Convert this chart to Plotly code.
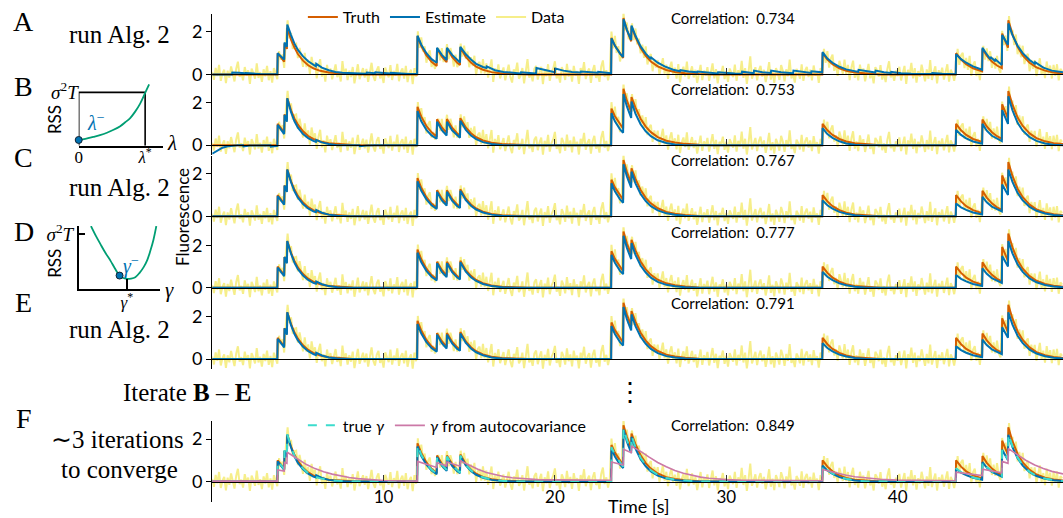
import numpy as np
import plotly.graph_objects as go

W, H = 1063, 518
SERIF = "Liberation Serif"
SANS = "Lato"
ORANGE = "#D55E00"
BLUE = "#0072B2"
YELLOW = "rgba(240,228,66,0.62)"
GREEN = "#009E73"
PINK = "#CC79A7"
CYAN = "rgb(60,220,205)"

# ---------------- data ----------------
data_dt = 0.1
data_vals = [
    0.12, -0.25, 0.31, -0.08, 0.45, -0.30, 0.05, 0.22, -0.41, 0.18,
    -0.15, 0.38, 0.02, -0.33, 0.27, 0.60, -0.12, 0.09, -0.28, 0.35,
    -0.05, 0.19, -0.44, 0.28, 0.07, -0.20, 0.52, -0.16, 0.11, -0.35,
    0.24, -0.09, 0.40, -0.27, 0.15, -0.38, 0.30, 0.04, -0.22, 1.10,
    0.69, 0.94, 0.31, 1.65, 2.55, 1.70, 1.96, 1.20, 1.42, 1.45,
    0.77, 1.25, 0.85, 0.36, 1.02, 0.35, 0.69, 0.03, 0.83, 0.34,
    0.55, -0.18, 0.39, 0.72, -0.10, 0.23, -0.34, 0.45, -0.01, 0.28,
    -0.23, 0.21, 0.47, -0.13, 0.12, -0.33, 0.63, -0.03, 0.27, -0.26,
    0.18, -0.12, 0.35, -0.42, 0.10, 0.48, -0.22, 0.06, 0.30, -0.15,
    0.26, -0.35, 0.14, 0.55, -0.08, -0.30, 0.20, 0.38, -0.18, 0.02,
    -0.40, 0.32, 0.08, -0.14, 0.44, -0.26, 0.16, -0.06, 0.50, -0.32,
    0.12, 0.28, -0.20, 0.40, -0.36, 0.06, 0.22, -0.45, 0.30, -0.10,
    2.03, 1.25, 1.74, 1.07, 1.32, 0.55, 0.98, 1.13, 0.35, 0.62,
    0.26, 0.70, 1.25, 0.66, 1.24, 0.58, 0.89, 1.43, 0.72, 1.24,
    0.92, 0.37, 0.93, 0.35, 0.53, 1.45, 0.84, 1.35, 0.73, 1.08,
    0.34, 0.81, 0.39, 0.88, -0.03, 0.48, 0.59, 0.05, 0.72, 0.04,
    0.52, -0.15, 0.23, 0.71, -0.35, 0.29, -0.02, 0.47, -0.19, 0.10,
    0.33, -0.28, 0.15, 0.46, -0.12, -0.38, 0.24, 0.08, 0.56, -0.20,
    -0.06, 0.30, -0.42, 0.18, 0.72, -0.15, 0.05, -0.32, 0.26, 0.40,
    -0.24, 0.12, 0.36, -0.45, 0.20, -0.08, 0.48, -0.30, 0.10, 0.28,
    0.62, -0.18, 0.04, -0.38, 0.34, 0.14, -0.26, 0.50, -0.10, 0.22,
    -0.34, 0.40, -0.05, 0.16, -0.44, 0.30, 0.06, 0.58, -0.22, 0.12,
    0.28, -0.40, 0.18, 0.44, -0.16, 0.02, -0.35, 0.36, 0.66, -0.12,
    0.20, -0.28, 0.10, 2.02, 1.23, 1.81, 1.01, 1.33, 0.61, 1.05,
    2.90, 2.06, 2.44, 1.66, 1.95, 2.40, 1.61, 2.16, 1.41, 1.69,
    0.99, 1.40, 0.78, 1.32, 0.47, 0.84, 0.96, 0.15, 0.69, 0.33,
    0.68, -0.01, 0.40, 0.77, 0.04, 0.46, -0.21, 0.32, 0.60, -0.02,
    0.32, -0.20, 0.49, -0.37, 0.12, 0.36, -0.09, 0.60, -0.21, 0.14,
    0.38, -0.14, 0.22, -0.40, 0.07, 0.45, -0.27, 0.18, -0.05, 0.34,
    -0.30, 0.10, 0.52, -0.18, 0.25, -0.42, 0.15, 0.04, 0.40, -0.22,
    0.16, -0.35, 0.28, 0.08, -0.12, 0.46, -0.30, 0.20, -0.06, 0.64,
    -0.16, 0.30, -0.44, 0.12, 0.85, -0.20, 0.06, 0.34, -0.28, 0.18,
    0.40, -0.10, 0.22, -0.36, 0.05, 0.58, -0.24, 0.14, -0.40, 0.30,
    0.08, -0.26, 0.44, 0.16, -0.32, 0.24, -0.08, 0.70, -0.18, 0.02,
    -0.38, 0.26, 0.10, -0.20, 0.48, -0.30, 0.18, 0.36, -0.12, 0.22,
    -0.28, 0.42, -0.06, 0.14, -0.40, 0.30, 0.08, 1.20, 0.55, 1.10,
    0.32, 0.75, 0.93, 0.17, 0.47, -0.07, 0.64, 0.31, 0.03, 0.70,
    0.02, 0.45, -0.27, 0.32, 0.65, -0.16, 0.18, -0.28, 0.46, 0.00,
    0.28, -0.32, 0.14, 0.50, -0.18, 0.06, -0.42, 0.34, 0.20, -0.10,
    0.44, -0.24, 0.08, -0.36, 0.26, 0.62, -0.14, 0.04, -0.30, 0.18,
    -0.08, 0.36, -0.28, 0.12, 0.40, -0.44, 0.22, -0.02, 0.54, -0.18,
    0.30, -0.38, 0.16, -0.10, 0.46, 0.06, -0.32, 0.24, -0.20, 0.68,
    -0.26, 0.10, 0.38, -0.42, 0.20, -0.06, 0.32, -0.24, 0.14, 0.48,
    -0.34, 0.22, 0.04, -0.30, 0.16, 1.20, 0.45, 0.90, 1.02, 0.30,
    0.78, 0.22, 0.87, -0.07, 0.44, 0.61, -0.07, 0.30, -0.27, 0.41,
    1.35, 0.70, 1.23, 0.63, 1.09, 0.31, 0.79, 0.27, 0.87, 0.27,
    0.08, 2.05, 1.38, 1.83, 1.11, 2.75, 1.90, 2.10, 1.38, 1.88,
    0.95, 1.40, 0.81, 1.35, 0.49, 0.85, 0.97, 0.15, 0.68, 0.27,
    0.67, -0.07, 0.39, 0.76, -0.02, 0.40, -0.17, 0.61, 0.04, 0.42,
    -0.19, 0.45, -0.06, 0.48, -0.28, 0.26, 0.15,
]

truth_pts = [
    (0, 0), (3.80, 0), (3.82, 1.00), (4.20, 0.60), (4.22, 1.45), (4.36, 1.20), (4.38, 2.20),
    (4.6, 1.64), (4.8, 1.26), (5.0, 0.96), (5.3, 0.65), (5.6, 0.43), (5.9, 0.29), (6.3, 0.17),
    (6.8, 0.088), (7.4, 0.04), (8.2, 0.01), (9.0, 0),
    (11.96, 0), (11.98, 1.80), (12.2, 1.34), (12.5, 0.90), (12.8, 0.60), (13.10, 0.40), (13.12, 1.22),
    (13.4, 0.84), (13.68, 0.58), (13.70, 1.23), (14.0, 0.82), (14.3, 0.55), (14.46, 0.45), (14.48, 1.27),
    (14.8, 0.83), (15.1, 0.56), (15.4, 0.37), (15.8, 0.22), (16.3, 0.11), (16.9, 0.05), (17.6, 0.02), (18.5, 0),
    (23.28, 0), (23.30, 1.72), (23.5, 1.36), (23.8, 0.96), (23.98, 0.78), (24.00, 2.65), (24.2, 2.09),
    (24.45, 1.56), (24.47, 2.26), (24.7, 1.76), (25.0, 1.24), (25.3, 0.87), (25.6, 0.61), (26.0, 0.38),
    (26.5, 0.21), (27.0, 0.12), (27.6, 0.06), (28.4, 0.02), (29.2, 0),
    (35.60, 0), (35.62, 1.00), (35.9, 0.70), (36.2, 0.48), (36.6, 0.29), (37.0, 0.17), (37.5, 0.09),
    (38.1, 0.04), (39.0, 0),
    (43.39, 0), (43.41, 1.00), (43.7, 0.70), (44.0, 0.48), (44.4, 0.29), (44.93, 0.15), (44.95, 1.20),
    (45.2, 0.88), (45.5, 0.61), (45.8, 0.42), (46.08, 0.30), (46.10, 1.92), (46.44, 1.26), (46.46, 2.55),
    (46.7, 1.90), (47.0, 1.30), (47.3, 0.90), (47.7, 0.55), (48.1, 0.33), (48.6, 0.18), (49.1, 0.095), (49.65, 0.05),
]

est_a_pts = [
    (0, 0), (1.15, 0), (1.17, 0.09), (1.5, 0.06), (1.55, 0.08), (1.9, 0.06), (1.95, 0.07), (2.4, 0.04),
    (2.8, 0.02), (3.80, 0.01),
    (3.82, 1.00), (4.20, 0.70), (4.22, 1.50), (4.36, 1.30), (4.38, 2.35), (4.6, 1.85), (4.8, 1.45),
    (5.0, 1.15), (5.3, 0.85), (5.6, 0.62), (5.9, 0.45), (6.05, 0.38), (6.07, 0.50), (6.4, 0.32),
    (6.8, 0.20), (7.2, 0.12), (7.6, 0.08), (8.0, 0.06), (8.5, 0.04), (9.0, 0.03), (9.02, 0.09),
    (9.5, 0.06), (9.52, 0.10), (10.0, 0.06), (10.4, 0.04), (10.42, 0.08), (11.0, 0.04), (11.5, 0.02), (11.96, 0.02),
    (11.98, 1.82), (12.2, 1.40), (12.5, 1.00), (12.8, 0.72), (13.10, 0.55), (13.12, 1.25), (13.4, 0.92),
    (13.68, 0.68), (13.70, 1.25), (14.0, 0.92), (14.3, 0.66), (14.46, 0.56), (14.48, 1.30), (14.8, 0.95),
    (15.1, 0.70), (15.4, 0.50), (15.8, 0.35), (16.0, 0.30), (16.02, 0.38), (16.5, 0.20), (17.0, 0.12),
    (17.5, 0.07), (18.0, 0.05), (18.02, 0.10), (18.5, 0.06), (18.90, 0.04), (18.92, 0.30), (19.5, 0.18),
    (20.0, 0.10), (20.02, 0.28), (20.5, 0.18), (21.0, 0.12), (21.5, 0.09), (21.52, 0.14), (22.0, 0.10),
    (22.5, 0.08), (22.52, 0.12), (23.0, 0.08), (23.28, 0.06),
    (23.30, 1.70), (23.5, 1.35), (23.8, 0.98), (23.98, 0.82), (24.00, 2.60), (24.2, 2.10), (24.45, 1.62),
    (24.47, 2.30), (24.7, 1.82), (25.0, 1.32), (25.3, 0.98), (25.6, 0.72), (25.62, 0.80), (26.0, 0.55),
    (26.4, 0.38), (26.9, 0.22), (27.3, 0.15), (27.32, 0.20), (27.8, 0.14), (28.3, 0.10), (28.32, 0.14),
    (28.9, 0.08), (29.5, 0.05), (29.52, 0.10), (30.0, 0.06), (30.5, 0.04), (30.9, 0.03), (30.92, 0.13),
    (31.4, 0.08), (31.6, 0.06), (31.62, 0.18), (32.1, 0.10), (32.6, 0.07), (32.62, 0.18), (33.2, 0.10),
    (33.9, 0.06), (33.92, 0.18), (34.5, 0.10), (34.95, 0.07), (34.97, 0.15), (35.60, 0.10),
    (35.62, 1.05), (35.9, 0.75), (36.2, 0.55), (36.6, 0.36), (37.0, 0.24), (37.5, 0.15), (37.70, 0.12),
    (37.72, 0.22), (38.2, 0.14), (38.7, 0.09), (38.72, 0.18), (39.2, 0.10), (39.6, 0.07), (39.62, 0.12),
    (40.2, 0.06), (40.8, 0.03), (42.0, 0.02), (42.02, 0.07), (42.6, 0.03), (43.39, 0.01),
    (43.41, 0.95), (43.7, 0.72), (44.0, 0.55), (44.4, 0.38), (44.93, 0.22), (44.95, 1.25), (45.2, 0.95),
    (45.40, 0.72), (45.42, 0.82), (45.70, 0.62), (45.72, 0.70), (46.08, 0.45), (46.10, 1.85), (46.44, 1.40),
    (46.46, 2.40), (46.7, 1.85), (47.0, 1.35), (47.3, 1.00), (47.7, 0.68), (48.0, 0.50), (48.02, 0.58),
    (48.5, 0.32), (49.0, 0.18), (49.65, 0.10),
]

est_b_pts = [
    (0, -0.40), (0.3, -0.25), (0.6, -0.12), (0.9, -0.05), (1.2, -0.02), (1.5, 0), (1.80, 0), (1.82, -0.06),
    (2.2, -0.02), (3.40, 0), (3.42, -0.07), (3.80, -0.03),
    (3.82, 0.95), (4.20, 0.52), (4.22, 1.42), (4.36, 1.10), (4.38, 2.20), (4.6, 1.55), (4.8, 1.12),
    (5.0, 0.82), (5.3, 0.52), (5.6, 0.33), (5.9, 0.20), (6.05, 0.15), (6.07, 0.25), (6.4, 0.13),
    (6.8, 0.05), (7.3, 0), (8.60, 0), (8.62, -0.05), (9.0, -0.02), (9.5, 0), (11.96, 0),
    (11.98, 1.60), (12.2, 1.12), (12.5, 0.72), (12.8, 0.46), (13.10, 0.30), (13.12, 1.10), (13.4, 0.70),
    (13.68, 0.45), (13.70, 1.10), (14.0, 0.70), (14.3, 0.44), (14.46, 0.35), (14.48, 1.15), (14.8, 0.72),
    (15.1, 0.45), (15.4, 0.28), (15.8, 0.14), (16.3, 0.05), (17.0, 0), (23.28, 0),
    (23.30, 1.50), (23.5, 1.12), (23.8, 0.74), (23.98, 0.58), (24.00, 2.40), (24.2, 1.82), (24.45, 1.28),
    (24.47, 2.05), (24.7, 1.48), (25.0, 0.98), (25.3, 0.65), (25.6, 0.42), (26.0, 0.23), (26.5, 0.10),
    (27.0, 0.03), (27.6, 0), (35.60, 0),
    (35.62, 0.80), (35.9, 0.52), (36.2, 0.34), (36.6, 0.18), (37.0, 0.08), (37.5, 0.02), (38.0, 0), (43.39, 0),
    (43.41, 0.72), (43.7, 0.48), (44.0, 0.32), (44.4, 0.17), (44.93, 0.07), (44.95, 1.00), (45.2, 0.68),
    (45.5, 0.44), (45.8, 0.29), (46.08, 0.19), (46.10, 1.65), (46.44, 1.00), (46.46, 2.30), (46.7, 1.64),
    (47.0, 1.05), (47.3, 0.68), (47.7, 0.38), (48.1, 0.20), (48.6, 0.08), (49.1, 0.02), (49.65, 0),
]

est_final_pts = [
    (0, 0), (3.80, 0), (3.82, 0.95), (4.20, 0.55), (4.22, 1.45), (4.36, 1.15), (4.38, 2.20), (4.6, 1.60),
    (4.8, 1.18), (5.0, 0.88), (5.3, 0.58), (5.6, 0.37), (5.9, 0.23), (6.05, 0.19), (6.07, 0.30), (6.4, 0.17),
    (6.8, 0.08), (7.3, 0.03), (8.0, 0),
    (11.96, 0), (11.98, 1.65), (12.2, 1.20), (12.5, 0.80), (12.8, 0.52), (13.10, 0.35), (13.12, 1.15),
    (13.4, 0.75), (13.68, 0.50), (13.70, 1.15), (14.0, 0.74), (14.3, 0.48), (14.46, 0.39), (14.48, 1.20),
    (14.8, 0.76), (15.1, 0.50), (15.4, 0.32), (15.8, 0.18), (16.3, 0.08), (17.0, 0.02), (17.8, 0),
    (23.28, 0), (23.30, 1.55), (23.5, 1.18), (23.8, 0.80), (23.98, 0.64), (24.00, 2.45), (24.2, 1.88),
    (24.45, 1.35), (24.47, 2.10), (24.7, 1.55), (25.0, 1.05), (25.3, 0.72), (25.6, 0.48), (26.0, 0.28),
    (26.5, 0.14), (27.0, 0.07), (27.6, 0.03), (28.4, 0),
    (35.60, 0), (35.62, 0.75), (35.9, 0.52), (36.2, 0.36), (36.6, 0.21), (37.0, 0.12), (37.5, 0.05), (38.2, 0),
    (43.39, 0), (43.41, 0.60), (43.7, 0.42), (44.0, 0.30), (44.4, 0.18), (44.93, 0.09), (44.95, 0.92),
    (45.2, 0.66), (45.5, 0.46), (45.8, 0.32), (46.08, 0.23), (46.10, 1.50), (46.44, 1.00), (46.46, 2.20),
    (46.7, 1.62), (47.0, 1.10), (47.3, 0.75), (47.7, 0.44), (48.1, 0.26), (48.6, 0.13), (49.1, 0.06), (49.65, 0.03),
]

est_true_gamma_pts = [
    (0, 0), (3.80, 0), (3.82, 0.98), (4.20, 0.58), (4.22, 1.47), (4.36, 1.18), (4.38, 2.22), (4.6, 1.63),
    (4.8, 1.22), (5.0, 0.92), (5.3, 0.62), (5.6, 0.40), (5.9, 0.26), (6.3, 0.15), (6.8, 0.07), (7.4, 0.03), (8.2, 0),
    (11.96, 0), (11.98, 1.72), (12.2, 1.26), (12.5, 0.85), (12.8, 0.56), (13.10, 0.38), (13.12, 1.18),
    (13.4, 0.80), (13.68, 0.55), (13.70, 1.18), (14.0, 0.78), (14.3, 0.52), (14.46, 0.42), (14.48, 1.22),
    (14.8, 0.79), (15.1, 0.53), (15.4, 0.35), (15.8, 0.20), (16.3, 0.10), (17.0, 0.03), (17.8, 0),
    (23.28, 0), (23.30, 1.62), (23.5, 1.26), (23.8, 0.88), (23.98, 0.70), (24.00, 2.52), (24.2, 1.96),
    (24.45, 1.42), (24.47, 2.16), (24.7, 1.62), (25.0, 1.12), (25.3, 0.78), (25.6, 0.53), (26.0, 0.32),
    (26.5, 0.17), (27.0, 0.09), (27.6, 0.04), (28.4, 0),
    (35.60, 0), (35.62, 0.78), (35.9, 0.55), (36.2, 0.38), (36.6, 0.22), (37.0, 0.13), (37.5, 0.06), (38.2, 0),
    (43.39, 0), (43.41, 0.62), (43.7, 0.44), (44.0, 0.31), (44.4, 0.19), (44.93, 0.10), (44.95, 0.95),
    (45.2, 0.68), (45.5, 0.48), (45.8, 0.33), (46.08, 0.24), (46.10, 1.55), (46.44, 1.03), (46.46, 2.25),
    (46.7, 1.66), (47.0, 1.13), (47.3, 0.77), (47.7, 0.46), (48.1, 0.27), (48.6, 0.14), (49.1, 0.07), (49.65, 0.03),
]

est_autocov_pts = [
    (0, 0.02), (3.80, 0.02), (3.82, 0.55), (4.20, 0.50), (4.22, 0.90), (4.36, 0.86), (4.38, 1.38), (5.0, 1.05),
    (5.5, 0.80), (6.0, 0.61), (6.5, 0.46), (7.0, 0.35), (7.5, 0.26), (8.0, 0.19), (8.5, 0.14), (9.0, 0.10),
    (9.5, 0.07), (10.0, 0.05), (11.0, 0.03), (11.96, 0.02),
    (11.98, 0.95), (12.6, 0.78), (13.10, 0.66), (13.12, 0.88), (13.68, 0.74), (13.70, 0.92), (14.46, 0.72),
    (14.48, 0.98), (15.0, 0.78), (15.5, 0.58), (16.0, 0.43), (16.5, 0.32), (17.0, 0.24), (17.5, 0.18),
    (18.0, 0.14), (18.5, 0.11), (19.0, 0.09), (20.0, 0.08), (21.0, 0.07), (22.0, 0.06), (23.28, 0.06),
    (23.30, 0.92), (23.98, 0.78), (24.00, 1.52), (24.45, 1.36), (24.47, 1.66), (25.0, 1.42), (25.5, 1.15),
    (26.0, 0.90), (26.5, 0.70), (27.0, 0.52), (27.5, 0.39), (28.0, 0.29), (28.5, 0.21), (29.0, 0.16),
    (29.5, 0.12), (30.0, 0.09), (31.0, 0.06), (33.0, 0.05), (35.60, 0.04),
    (35.62, 0.57), (36.0, 0.49), (36.5, 0.39), (37.0, 0.30), (37.5, 0.23), (38.0, 0.18), (39.0, 0.11),
    (40.0, 0.07), (42.0, 0.05), (43.39, 0.04),
    (43.41, 0.44), (44.0, 0.37), (44.93, 0.28), (44.95, 0.58), (45.5, 0.49), (46.08, 0.41), (46.10, 0.95),
    (46.44, 0.86), (46.46, 1.55), (47.0, 1.25), (47.5, 0.99), (48.0, 0.78), (48.5, 0.61), (49.0, 0.48), (49.65, 0.36),
]

correlations = ["0.734", "0.753", "0.767", "0.777", "0.791", "0.849"]
x_ticks = [10, 20, 30, 40]
y_ticks = [0, 2]

# schematic insets
lam_star = 1.0
sigma2T = 1.0
lambda_curve_x = [0.0, 0.1, 0.22, 0.32, 0.425, 0.525, 0.625, 0.7, 0.775, 0.85, 0.925, 1.0, 1.06]
lambda_curve_y = [0.11, 0.13, 0.166, 0.2, 0.245, 0.3, 0.368, 0.44, 0.52, 0.64, 0.79, 0.99, 1.15]
lambda_minus = (0.0, 0.11)
gamma_star = 0.59
gamma_curve_x = [0.15, 0.21, 0.266, 0.33, 0.388, 0.44, 0.49, 0.54, 0.59, 0.64, 0.693, 0.745, 0.795, 0.84, 0.877, 0.915, 0.95]
gamma_curve_y = [1.15, 0.97, 0.818, 0.65, 0.515, 0.38, 0.26, 0.20, 0.18, 0.185, 0.21, 0.29, 0.395, 0.53, 0.696, 0.9, 1.15]
gamma_minus = (0.50, 0.24)


def unzip(pts):
    return [p[0] for p in pts], [p[1] for p in pts]


data_t = np.arange(len(data_vals)) * data_dt
truth_t, truth_y = unzip(truth_pts)
estimates = [est_a_pts, est_b_pts, est_final_pts, est_final_pts, est_final_pts, est_final_pts]

# ---------------- geometry (pixels of the 1063x518 canvas) ----------------
zero_px = [67.5, 139.3, 211.6, 284.2, 356.6, 481.0]
unit_px = 21.6
y_top = 2.85
y_bot = [-0.48, -0.48, -0.48, -0.48, -0.48, -0.95]
x_left_px = 209
t_max = 49.65


def py(p):
    return 1 - p / H


def px(p):
    return p / W


fig = go.Figure()
layout = {}
for i in range(6):
    n = i + 1
    xa = "x" if n == 1 else f"x{n}"
    ya = "y" if n == 1 else f"y{n}"
    et, ey = unzip(estimates[i])
    fig.add_trace(go.Scatter(x=data_t, y=data_vals, xaxis=xa, yaxis=ya, mode="lines",
                             line=dict(color=YELLOW, width=2.0), name="Data", legendrank=3,
                             showlegend=(n == 1), legend="legend", hoverinfo="skip"))
    fig.add_trace(go.Scatter(x=truth_t, y=truth_y, xaxis=xa, yaxis=ya, mode="lines",
                             line=dict(color=ORANGE, width=2), name="Truth", legendrank=1,
                             showlegend=(n == 1), legend="legend"))
    fig.add_trace(go.Scatter(x=et, y=ey, xaxis=xa, yaxis=ya, mode="lines",
                             line=dict(color=BLUE, width=2), name="Estimate", legendrank=2,
                             showlegend=(n == 1), legend="legend"))
    if n == 6:
        gt, gy = unzip(est_true_gamma_pts)
        at, ay = unzip(est_autocov_pts)
        fig.add_trace(go.Scatter(x=gt, y=gy, xaxis=xa, yaxis=ya, mode="lines",
                                 line=dict(color=CYAN, width=2, dash="dash"), name="true <i>γ</i>",
                                 legendrank=1, legend="legend2"))
        fig.add_trace(go.Scatter(x=at, y=ay, xaxis=xa, yaxis=ya, mode="lines",
                                 line=dict(color=PINK, width=1.6), name="<i>γ</i> from autocovariance",
                                 legendrank=2, legend="legend2"))

    z = zero_px[i]
    top_px = z - y_top * unit_px
    bot_px = z - y_bot[i] * unit_px
    kx = "xaxis" if n == 1 else f"xaxis{n}"
    ky = "yaxis" if n == 1 else f"yaxis{n}"
    xd = dict(domain=[px(x_left_px), 1], range=[0, t_max], anchor="free", position=py(z),
              showline=True, linecolor="black", linewidth=1.3, ticks="inside", ticklen=6,
              tickwidth=1.2, tickcolor="#333", tickvals=x_ticks, showticklabels=(n == 6),
              tickfont=dict(family=SANS, size=17, color="black"), showgrid=False, zeroline=False)
    if n > 1:
        xd["matches"] = "x"
    layout[kx] = xd
    layout[ky] = dict(domain=[py(bot_px), py(top_px)], range=[y_bot[i], y_top], anchor=xa,
                      showline=True, linecolor="black", linewidth=1.3, ticks="outside", ticklen=5,
                      tickwidth=1.2, tickcolor="black", tickvals=y_ticks,
                      tickfont=dict(family=SANS, size=18, color="black"), showgrid=False, zeroline=False)

# inset B: RSS vs lambda
fig.add_trace(go.Scatter(x=[0, 0, lam_star, lam_star], y=[0, sigma2T, sigma2T, 0], xaxis="x7", yaxis="y7",
                         mode="lines", line=dict(color="black", width=1.6), showlegend=False))
fig.add_trace(go.Scatter(x=lambda_curve_x, y=lambda_curve_y, xaxis="x7", yaxis="y7", mode="lines",
                         line=dict(color=GREEN, width=1.8, shape="spline"), showlegend=False))
fig.add_trace(go.Scatter(x=[lambda_minus[0]], y=[lambda_minus[1]], xaxis="x7", yaxis="y7", mode="markers",
                         marker=dict(color=BLUE, size=7, line=dict(color="#123", width=1)),
                         cliponaxis=False, showlegend=False))
layout["xaxis7"] = dict(domain=[px(75), px(160)], range=[0, 1.275], anchor="y7", showline=True,
                        linecolor="black", linewidth=1.6, ticks="", tickvals=[0, lam_star],
                        ticktext=["0", "<i>λ</i><sup>*</sup>"], tickfont=dict(family=SERIF, size=17, color="black"),
                        ticklabelstandoff=-5, showgrid=False, zeroline=False)
layout["yaxis7"] = dict(domain=[py(140), py(77)], range=[0, 1.16], anchor="x7", showline=False,
                        ticks="", tickvals=[sigma2T], ticktext=["<i>σ</i><sup>2</sup><i>T</i>"],
                        tickfont=dict(family=SERIF, size=19, color="black"), showgrid=False, zeroline=False)

# inset D: RSS vs gamma
fig.add_trace(go.Scatter(x=gamma_curve_x, y=gamma_curve_y, xaxis="x8", yaxis="y8", mode="lines",
                         line=dict(color=GREEN, width=1.8, shape="spline"), showlegend=False))
fig.add_trace(go.Scatter(x=[gamma_minus[0]], y=[gamma_minus[1]], xaxis="x8", yaxis="y8", mode="markers",
                         marker=dict(color=BLUE, size=7, line=dict(color="#123", width=1)),
                         cliponaxis=False, showlegend=False))
layout["xaxis8"] = dict(domain=[px(75), px(157)], range=[0, 1.0], anchor="y8", showline=True,
                        linecolor="black", linewidth=1.6, ticks="inside", ticklen=10, tickwidth=1.6,
                        tickcolor="black", tickvals=[gamma_star], ticktext=["<i>γ</i><sup>*</sup>"],
                        tickfont=dict(family=SERIF, size=17, color="black"), ticklabelstandoff=-3,
                        showgrid=False, zeroline=False)
layout["yaxis8"] = dict(domain=[py(285), py(221.5)], range=[0, 1.15], anchor="x8", showline=True,
                        linecolor="black", linewidth=1.6, ticks="inside", ticklen=6, tickwidth=1.6,
                        tickcolor="black", tickvals=[sigma2T], ticktext=["<i>σ</i><sup>2</sup><i>T</i>"],
                        tickfont=dict(family=SERIF, size=19, color="black"), showgrid=False, zeroline=False)

ann = []


def text(x, y, s, size, family=SERIF, color="black", angle=0, xanchor="center"):
    ann.append(dict(x=px(x), y=py(y), xref="paper", yref="paper", text=s, showarrow=False,
                    font=dict(family=family, size=size, color=color), textangle=angle,
                    xanchor=xanchor, yanchor="middle"))


for lab, yy in zip("ABCDEF", [14, 80, 152, 227, 299, 417]):
    text(20, yy, lab, 28)
for yy in [27, 182, 327]:
    text(116, yy, "run Alg. 2", 25)
text(184, 391, "Iterate <b>B</b> – <b>E</b>", 25)
text(628, 391, "⋮", 26)
text(114, 438, "∼3 iterations", 25)
text(116, 469, "to converge", 25)
text(179, 212, "Fluorescence", 17, family=SANS, angle=-90)
text(637, 506, "Time [s]", 18, family=SANS)
text(50, 113, "RSS", 17, family=SANS, angle=-90)
text(50, 259, "RSS", 17, family=SANS, angle=-90)
text(169, 137, "<i>λ</i>", 21)
text(92, 116, "<i>λ</i><sup>−</sup>", 20, color=BLUE)
text(166, 286, "<i>γ</i>", 21)
text(127, 262, "<i>γ</i><sup>−</sup>", 20, color=BLUE)
for i, c in enumerate(correlations):
    text(668, zero_px[i] - 57, f"Correlation:  {c}", 15, family=SANS, xanchor="left")

fig.update_layout(
    width=W, height=H, margin=dict(l=0, r=0, t=0, b=0),
    paper_bgcolor="white", plot_bgcolor="rgba(0,0,0,0)",
    annotations=ann, showlegend=True,
    legend=dict(orientation="h", x=px(300), xanchor="left", y=py(9), yanchor="middle",
                font=dict(family=SANS, size=16, color="black"), bgcolor="rgba(0,0,0,0)"),
    legend2=dict(orientation="h", x=px(300), xanchor="left", y=py(424), yanchor="middle",
                 font=dict(family=SANS, size=16, color="black"), bgcolor="rgba(0,0,0,0)"),
    **layout,
)

fig.write_html("out.html", config={"displayModeBar": False})
